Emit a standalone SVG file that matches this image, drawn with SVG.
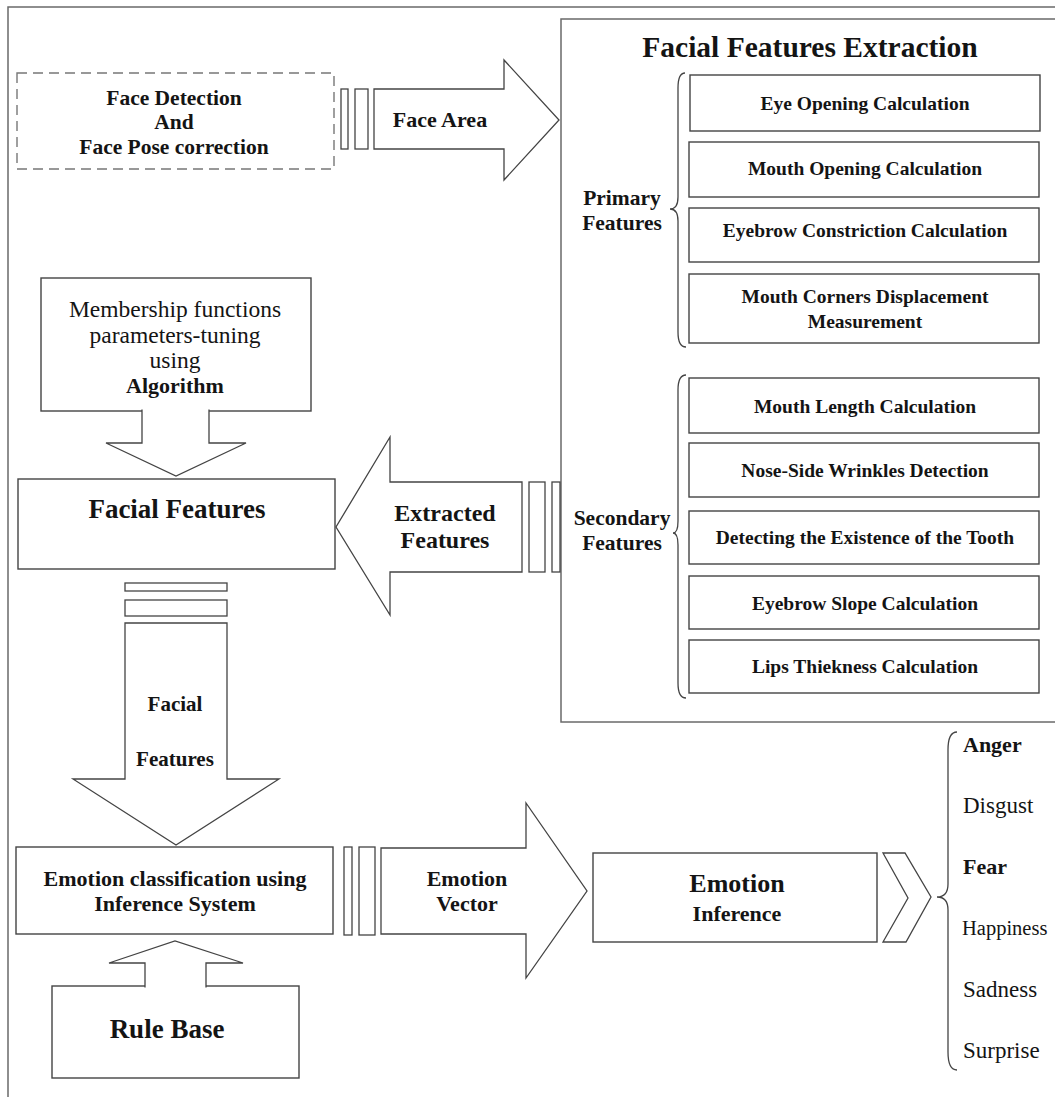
<svg xmlns="http://www.w3.org/2000/svg" width="1055" height="1097" viewBox="0 0 1055 1097">
<style>
text{font-family:"Liberation Serif","Times New Roman",serif;fill:#141414;text-anchor:middle}
.b{font-weight:bold}
.box{fill:#fff;stroke:#444;stroke-width:1.4}
.frame{fill:none;stroke:#6a6a6a;stroke-width:1.5}
.arr{fill:#fff;stroke:#444;stroke-width:1.3;stroke-linejoin:miter}
.brace{fill:none;stroke:#444;stroke-width:1.3}
.fs{font-size:19.5px;font-weight:bold}
.em{text-anchor:start}
</style>
<rect width="1055" height="1097" fill="#fff"/>
<rect class="frame" x="8" y="7" width="1100" height="1100"/>

<g id="extraction">
  <rect class="frame" x="561" y="19" width="520" height="703"/>
  <text class="b" x="810" y="57" font-size="29.5">Facial Features Extraction</text>
  <path class="brace" d="M685,73 Q678,73 678,88 V197 Q678,209 670,209 Q678,209 678,221 V332 Q678,347 686,347"/>
  <text class="b" x="622" y="205" font-size="21.5">Primary</text>
  <text class="b" x="622" y="230" font-size="21.5">Features</text>
  <path class="brace" d="M686,375 Q678,375 678,390 V521 Q678,533 673,533 Q678,533 678,545 V683 Q678,698 686,698"/>
  <text class="b" x="622" y="525" font-size="21.5">Secondary</text>
  <text class="b" x="622" y="550" font-size="21.5">Features</text>
</g>
<g id="f-eye"><rect class="box" x="690" y="75" width="350" height="56"/><text class="fs" x="865" y="110">Eye Opening Calculation</text></g>
<g id="f-mouth-open"><rect class="box" x="689" y="142" width="350" height="55"/><text class="fs" x="865" y="175">Mouth Opening Calculation</text></g>
<g id="f-eyebrow-con"><rect class="box" x="689" y="208" width="350" height="54"/><text class="fs" x="865" y="237">Eyebrow Constriction Calculation</text></g>
<g id="f-mouth-corners"><rect class="box" x="689" y="274" width="350" height="69"/><text class="fs" x="865" y="303">Mouth Corners Displacement</text><text class="fs" x="865" y="328">Measurement</text></g>
<g id="f-mouth-len"><rect class="box" x="689" y="378" width="350" height="55"/><text class="fs" x="865" y="413">Mouth Length Calculation</text></g>
<g id="f-nose"><rect class="box" x="689" y="443" width="350" height="54"/><text class="fs" x="865" y="477">Nose-Side Wrinkles Detection</text></g>
<g id="f-tooth"><rect class="box" x="689" y="511" width="350" height="53"/><text class="fs" x="865" y="544">Detecting the Existence of the Tooth</text></g>
<g id="f-eyebrow-slope"><rect class="box" x="689" y="576" width="350" height="53"/><text class="fs" x="865" y="610">Eyebrow Slope Calculation</text></g>
<g id="f-lips"><rect class="box" x="689" y="640" width="350" height="53"/><text class="fs" x="865" y="673">Lips Thiekness Calculation</text></g>

<g id="face-detection">
  <rect x="17" y="73" width="317" height="96" fill="#fff" stroke="#777" stroke-width="1.4" stroke-dasharray="10 6"/>
  <text class="b" x="174" y="105" font-size="21.5">Face Detection</text>
  <text class="b" x="174" y="129" font-size="21.5">And</text>
  <text class="b" x="174" y="154" font-size="21.5">Face Pose correction</text>
</g>
<g id="membership">
  <rect class="box" x="41" y="278" width="270" height="133"/>
  <text x="175" y="317" font-size="23.5">Membership functions</text>
  <text x="175" y="343" font-size="23.5">parameters-tuning</text>
  <text x="175" y="368" font-size="23.5">using</text>
  <text class="b" x="175" y="393" font-size="22">Algorithm</text>
</g>
<g id="facial-features">
  <rect class="box" x="18" y="479" width="317" height="90"/>
  <text class="b" x="177" y="518" font-size="27">Facial Features</text>
</g>
<g id="emotion-classification">
  <rect class="box" x="16" y="847" width="317" height="87"/>
  <text class="b" x="175" y="886" font-size="22">Emotion classification using</text>
  <text class="b" x="175" y="911" font-size="22">Inference System</text>
</g>
<g id="rule-base">
  <rect class="box" x="52" y="986" width="247" height="92"/>
  <text class="b" x="167" y="1038" font-size="27">Rule Base</text>
</g>
<g id="emotion-inference">
  <rect class="box" x="593" y="853" width="284" height="89"/>
  <text class="b" x="737" y="892" font-size="26">Emotion</text>
  <text class="b" x="737" y="921" font-size="22">Inference</text>
</g>
<g id="emotions">
  <path class="brace" d="M957,732 Q948,732 948,750 V884 Q948,897 937,897 Q948,897 948,910 V1052 Q948,1070 957,1070"/>
  <text class="em b" x="963" y="752" font-size="22">Anger</text>
  <text class="em" x="963" y="813" font-size="23">Disgust</text>
  <text class="em b" x="963" y="874" font-size="22">Fear</text>
  <text class="em" x="962" y="935" font-size="20.5">Happiness</text>
  <text class="em" x="963" y="997" font-size="23">Sadness</text>
  <text class="em" x="963" y="1058" font-size="23">Surprise</text>
</g>

<g id="connectors">
  <rect class="arr" x="341" y="89" width="7" height="60"/>
  <rect class="arr" x="355" y="89" width="13" height="60"/>
  <polygon class="arr" points="374,89 504,89 504,60 559,120 504,180 504,149 374,149"/>
  <text class="b" x="440" y="127" font-size="22">Face Area</text>
  <polyline class="arr" points="142,409.5 142,443 106,443 176,476 246,443 209,443 209,409.5"/>
  <rect class="arr" x="529" y="482" width="16" height="90"/>
  <rect class="arr" x="552" y="482" width="8" height="90"/>
  <polygon class="arr" points="522,482 390,482 390,437 336,527 390,615 390,572 522,572"/>
  <text class="b" x="445" y="521" font-size="24">Extracted</text>
  <text class="b" x="445" y="548" font-size="24">Features</text>
  <rect class="arr" x="125" y="583" width="102" height="8"/>
  <rect class="arr" x="125" y="600" width="102" height="16"/>
  <polygon class="arr" points="125,623 227,623 227,779 279,779 176,845 73,779 125,779"/>
  <text class="b" x="175" y="711" font-size="21">Facial</text>
  <text class="b" x="175" y="766" font-size="21">Features</text>
  <polyline class="arr" points="145,987.5 145,963 109,963 175,941 243,963 206,963 206,987.5"/>
  <rect class="arr" x="344" y="847" width="8" height="88"/>
  <rect class="arr" x="359" y="847" width="16" height="88"/>
  <polygon class="arr" points="381,848 526,848 526,803 587,891 526,978 526,934 381,934"/>
  <text class="b" x="467" y="886" font-size="22">Emotion</text>
  <text class="b" x="467" y="911" font-size="22">Vector</text>
  <polygon class="arr" points="883,853 905,853 931,897 906,942 883,942 908,898"/>
</g>
</svg>
